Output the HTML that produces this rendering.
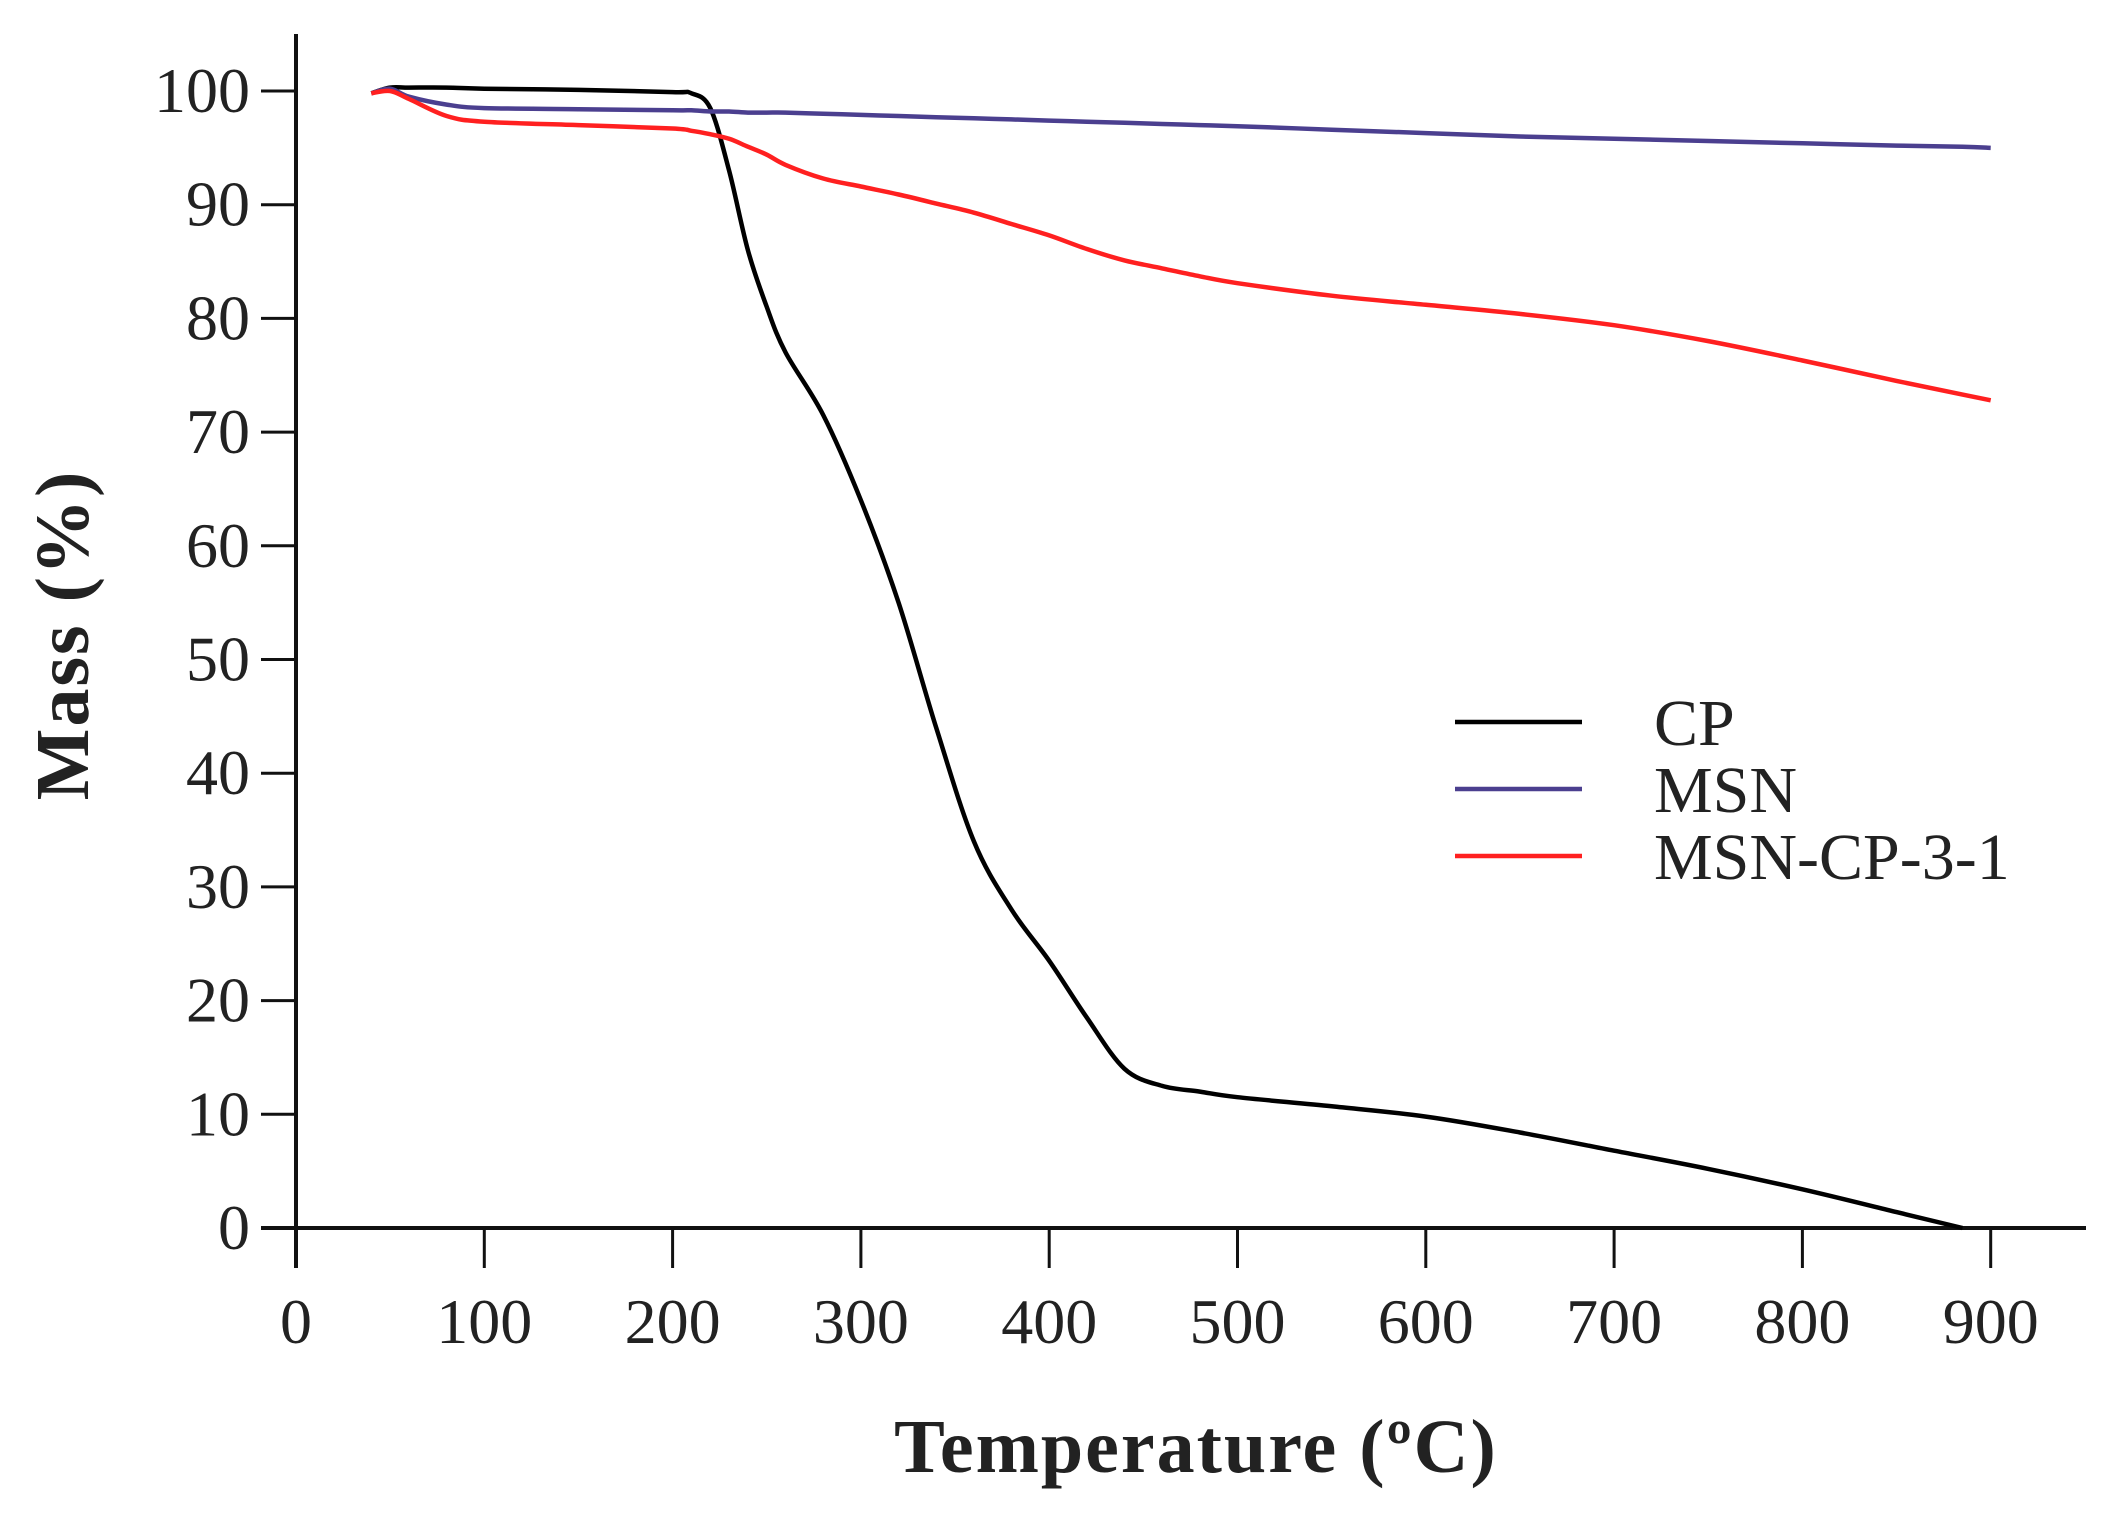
<!DOCTYPE html>
<html><head><meta charset="utf-8"><style>
body{margin:0;background:#fff}
svg text{font-family:"Liberation Serif",serif;fill:#222}
</style></head><body>
<svg id="c" width="2117" height="1518" xmlns="http://www.w3.org/2000/svg"></svg>
<script>
const xTicks=[0,100,200,300,400,500,600,700,800,900];
const yTicks=[0,10,20,30,40,50,60,70,80,90,100];
const seriesNames=["CP","MSN","MSN-CP-3-1"];
const seriesColors=["#000000","#4b3f8f","#ff2020"];
const temps=[40,50,60,80,100,150,200,210,220,230,240,250,260,280,300,320,340,360,380,400,420,440,460,480,500,550,600,650,700,750,800,850,885,900];
const cpVals=[99.8,100.3,100.3,100.3,100.2,100.1,99.9,99.8,98.5,93,86,81,77,71.5,64,55,44,34,28,23.5,18.5,14,12.5,12,11.5,10.7,9.8,8.4,6.8,5.2,3.4,1.4,0,null];
const msnVals=[99.8,100.2,99.5,98.8,98.5,98.4,98.3,98.3,98.2,98.2,98.1,98.1,98.1,98.0,97.9,97.8,97.7,97.6,97.5,97.4,97.3,97.2,97.1,97.0,96.9,96.6,96.3,96.0,95.8,95.6,95.4,95.2,95.1,95.0];
const redVals=[99.8,100,99.3,97.8,97.3,97.0,96.7,96.5,96.2,95.8,95.1,94.4,93.5,92.3,91.6,90.9,90.1,89.3,88.3,87.3,86.1,85.1,84.4,83.7,83.1,82.0,81.2,80.4,79.4,78.0,76.3,74.5,73.3,72.8];
const svg=document.getElementById('c');const NS='http://www.w3.org/2000/svg';
const X=v=>296+v*1.883, Y=v=>1228-v*11.37;
function mk(t,a,p){const e=document.createElementNS(NS,t);for(const k in a)e.setAttribute(k,a[k]);(p||svg).appendChild(e);return e;}
let e=mk('line',{x1:296,y1:34,x2:296,y2:1268,stroke:'#111','stroke-width':4});


e=mk('line',{x1:261,y1:1228,x2:2086,y2:1228,stroke:'#111','stroke-width':4});


xTicks.forEach(v=>{
 const t=mk('line',{x1:X(v),y1:1228,x2:X(v),y2:1268,stroke:'#111','stroke-width':3});
 
 
 const l=mk('text',{x:X(v),y:1343,'text-anchor':'middle','font-size':64});l.textContent=v;
 
 
});
yTicks.forEach(v=>{
 const t=mk('line',{x1:261,y1:Y(v),x2:296,y2:Y(v),stroke:'#111','stroke-width':3});
 
 
 const l=mk('text',{x:250,y:Y(v)+21,'text-anchor':'end','font-size':64});l.textContent=v;
 
 
});
function smooth(pts){let d='M'+pts[0][0].toFixed(1)+','+pts[0][1].toFixed(1);
 for(let i=0;i<pts.length-1;i++){const p0=pts[i-1]||pts[i],p1=pts[i],p2=pts[i+1],p3=pts[i+2]||p2;
  const c1=[p1[0]+(p2[0]-p0[0])/6,p1[1]+(p2[1]-p0[1])/6],c2=[p2[0]-(p3[0]-p1[0])/6,p2[1]-(p3[1]-p1[1])/6];
  d+='C'+c1.map(n=>n.toFixed(1))+' '+c2.map(n=>n.toFixed(1))+' '+p2.map(n=>n.toFixed(1));}
 return d;}
[cpVals,msnVals,redVals].forEach((vals,i)=>{
 const pts=[];vals.forEach((v,j)=>{if(v!=null)pts.push([X(temps[j]),Y(v)]);});
 const p=mk('path',{d:smooth(pts),fill:'none',stroke:seriesColors[i],'stroke-width':4.5,'stroke-linejoin':'round'});
 
 
 const ly=722+i*67;
 const ll=mk('line',{x1:1455,y1:ly,x2:1582,y2:ly,stroke:seriesColors[i],'stroke-width':4.5});
 
 
 const lt=mk('text',{x:1654,y:ly+23,'font-size':66});lt.textContent=seriesNames[i];
 
 
});
e=mk('text',{x:1196,y:1472,'text-anchor':'middle','font-size':76,'font-weight':'bold','letter-spacing':2});e.textContent='Temperature (ºC)';


e=mk('text',{x:0,y:0,'text-anchor':'middle','font-size':76,'font-weight':'bold','letter-spacing':2,transform:'translate(88,635) rotate(-90)'});e.textContent='Mass (%)';


</script>
</body></html>
